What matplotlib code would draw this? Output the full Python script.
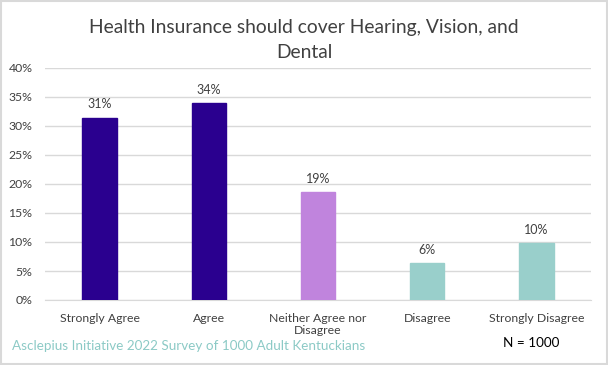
import matplotlib.pyplot as plt
from matplotlib.patches import Rectangle

categories = ['Strongly Agree', 'Agree', 'Neither Agree nor\nDisagree', 'Disagree', 'Strongly Disagree']
values = [31.4, 33.9, 18.6, 6.3, 9.8]
labels = ['31%', '34%', '19%', '6%', '10%']
colors = ['#2A008F', '#2A008F', '#C084DD', '#99CFCB', '#99CFCB']

plt.rcParams['font.family'] = ['Lato', 'DejaVu Sans']

fig = plt.figure(figsize=(6.08, 3.65), dpi=100)
ax = fig.add_axes([45 / 608, 1 - 300 / 365, 546 / 608, 232 / 365])

x = range(len(categories))
ax.bar(x, values, width=0.315, color=colors, edgecolor=colors, zorder=3)
for i, v in enumerate(values):
    ax.text(i, v + 1.3, labels[i], ha='center', va='bottom', fontsize=9, color='#404040')

ax.set_xlim(-0.5, 4.5)
ax.set_ylim(0, 40)
ax.set_yticks(range(0, 41, 5))
ax.set_yticklabels([f'{t}%' for t in range(0, 41, 5)])
ax.set_xticks(list(x))
ax.set_xticklabels(categories, linespacing=1.15)
ax.tick_params(axis='both', length=0, labelsize=8.8, labelcolor='#404040')
ax.tick_params(axis='x', pad=9)
ax.tick_params(axis='y', pad=9)
ax.grid(axis='y', color='#D9D9D9', linewidth=1, zorder=0)
for s in ['top', 'right', 'left']:
    ax.spines[s].set_visible(False)
ax.spines['bottom'].set_color('#D9D9D9')

fig.text(0.5, 1 - 28 / 365, 'Health Insurance should cover Hearing, Vision, and',
         ha='center', va='center', fontsize=13.9, color='#404040')
fig.text(0.5, 1 - 53 / 365, 'Dental',
         ha='center', va='center', fontsize=13.9, color='#404040')
fig.text(12 / 608, 1 - 346 / 365, 'Asclepius Initiative 2022 Survey of 1000 Adult Kentuckians',
         ha='left', va='center', fontsize=9.7, color='#8CCAC6')
fig.text(531 / 608, 1 - 343 / 365, 'N = 1000', ha='center', va='center', fontsize=9.7, color='black')

fig.patches.append(Rectangle((0.002, 0.003), 0.996, 0.994, transform=fig.transFigure,
                             fill=False, edgecolor='#D9D9D9', linewidth=1.5))

fig.savefig('out.png', dpi=100)
